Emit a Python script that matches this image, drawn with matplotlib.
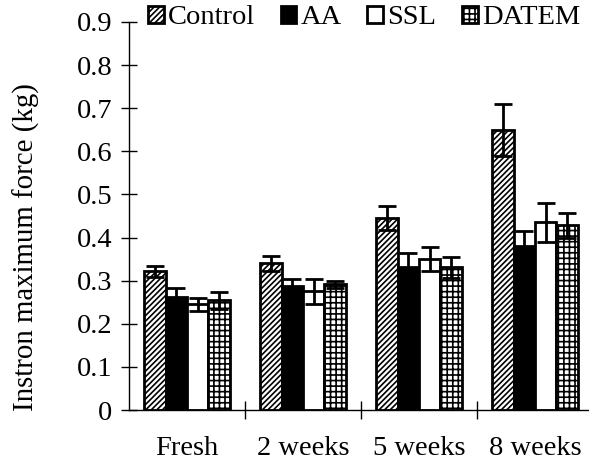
import matplotlib
matplotlib.use("Agg")
import matplotlib.pyplot as plt
import numpy as np

weeks = ["Fresh", "2 weeks", "5 weeks", "8 weeks"]
series = ["Control", "AA", "SSL", "DATEM"]
control = [0.322, 0.340, 0.445, 0.650]
control_err = [0.013, 0.017, 0.028, 0.060]
aa = [0.261, 0.288, 0.332, 0.381]
aa_err = [0.022, 0.016, 0.032, 0.035]
ssl = [0.245, 0.275, 0.350, 0.435]
ssl_err = [0.015, 0.028, 0.027, 0.046]
datem = [0.254, 0.292, 0.331, 0.428]
datem_err = [0.020, 0.008, 0.025, 0.030]

plt.rcParams['font.family'] = ['Liberation Serif', 'DejaVu Serif']
plt.rcParams['font.size'] = 20.5
plt.rcParams['hatch.linewidth'] = 1.2

fig = plt.figure(figsize=(5.89, 4.63), dpi=100)
ax = fig.add_axes([129/589, 1-410/463, 460/589, 388/463])

x = np.arange(len(weeks)) + 0.5
w = 0.185
styles = [dict(color='white', hatch='//////'),
          dict(color='black', hatch=None),
          dict(color='white', hatch=None),
          dict(color='white', hatch='+++')]
vals = [control, aa, ssl, datem]
errs = [control_err, aa_err, ssl_err, datem_err]

for i, (name, v, e, st) in enumerate(zip(series, vals, errs, styles)):
    pos = x + (i - 1.5) * w
    ax.bar(pos, v, w, color=st['color'], hatch=st['hatch'], edgecolor='black',
           linewidth=2.0, label=name, zorder=2)
    ax.errorbar(pos, v, yerr=e, fmt='none', ecolor='black', elinewidth=2,
                capsize=6.5, capthick=2, zorder=3)

ax.set_xlim(0, 460/116)
ax.set_ylim(0, 0.9)
ax.set_yticks(np.arange(0, 0.91, 0.1))
ax.set_yticklabels(["0"] + ["%.1f" % t for t in np.arange(0.1, 0.91, 0.1)])
ax.set_xticks(x)
ax.set_xticklabels(weeks)
ax.set_xticks([1, 2, 3], minor=True)
ax.tick_params(axis='x', which='major', length=0, pad=19)
ax.tick_params(axis='x', which='minor', direction='inout', length=13, width=1)
ax.tick_params(axis='y', direction='inout', length=12, width=1, pad=6)

for s in ['top', 'right']:
    ax.spines[s].set_visible(False)
for s in ['left', 'bottom']:
    ax.spines[s].set_linewidth(1.0)

ax.set_ylabel("Instron maximum force (kg)", fontsize=20.8)
ax.yaxis.set_label_coords(-0.193, 0.42)

ax.legend(ncol=4, frameon=False, loc='center left',
          bbox_to_anchor=(148/589, 1-18/463), bbox_transform=fig.transFigure,
          handlelength=0.55, handleheight=0.55, handletextpad=0.15,
          columnspacing=0.9, borderaxespad=0, borderpad=0)

fig.savefig("out.png", dpi=100)
